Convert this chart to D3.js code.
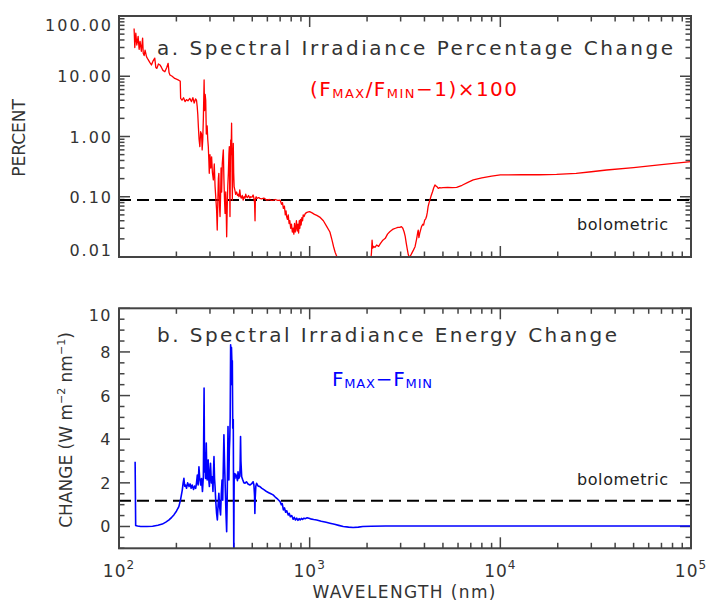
<!DOCTYPE html>
<html><head><meta charset="utf-8">
<script src="https://cdn.jsdelivr.net/npm/d3@7"></script>
<style>
html,body{margin:0;padding:0;background:#fff;}
text{font-family:"DejaVu Sans",sans-serif;fill:#333;}
</style></head>
<body><svg id="chart" width="708" height="606"></svg>
<script>
// ---------- DATA ----------
// Panel a: percentage change (F_MAX/F_MIN - 1) x 100, [wavelength nm, percent]; null = off-scale gap
const pctSpectrum = [
[120,62],[121,30],[122.5,52],[124,33],[126,46],[127.5,28],[129,38],[131,26],[133,43],[134,24],[135.5,22],[137,27],[139.5,21],[142,19],[145,17],[148,15.4],[151,18],[154,20],[156,14],[158,13.5],[161,16],[164,15.4],[167,14],[170,12.5],[174,11.9],[178,14],[181,16.4],[183,11.5],[185,10.5],[190,10],[196,9.2],[203,8.8],[208,8.4],[209.5,8.3],[210.5,4.3],[214,4.0],[218,4.4],[222,3.8],[226,4.1],[230,3.9],[235,4.3],[240,3.8],[244,4.4],[248,3.6],[252,4.2],[255,4.0],[257,3.2],[259,2.3],[261,1.4],[263,0.9],[265.5,0.68],[268,1.2],[271,1.1],[273,0.6],[275,0.9],[277,2.0],[279.5,8.7],[281,2.7],[283,5.0],[285,4.0],[287,1.1],[290,1.5],[292,0.9],[294,0.68],[296,0.4],[297.5,0.245],[300,0.5],[303,0.3],[306,0.46],[309,0.25],[312.5,0.19],[316,0.35],[319,0.15],[322.5,0.088],[325,0.06],[327.5,0.028],[330,0.09],[332,0.2],[334,0.245],[336.5,0.07],[338.8,0.047],[341,0.1],[343,0.3],[345.5,0.12],[348,0.35],[350,0.45],[352.5,0.6],[355,0.2],[357.5,0.09],[360,0.053],[363,0.12],[365,0.06],[367,0.0217],[370,0.08],[372,0.15],[374.6,0.245],[377,0.5],[379,0.68],[380.5,0.15],[382,0.047],[384,0.4],[385.5,0.875],[387,0.5],[389.5,1.66],[391,0.5],[393,0.088],[395,0.3],[397.5,0.77],[399.5,0.25],[401.7,0.147],[405,0.13],[409,0.11],[414,0.12],[418,0.105],[422,0.11],[426,0.1],[430,0.13],[434,0.1],[438,0.095],[443,0.105],[448,0.088],[453,0.1],[458,0.095],[462,0.11],[466,0.1],[472,0.097],[478,0.105],[485,0.095],[491,0.1],[498,0.098],[505,0.107],[510,0.095],[514,0.08],[517,0.04],[519,0.09],[524,0.1],[530,0.094],[540,0.097],[548,0.094],[560,0.092],[575,0.095],[595,0.088],[615,0.09],[630,0.087],[643,0.088],[660,0.09],[680,0.087],[700,0.088],[712,0.075],[720,0.08],[728,0.064],[737,0.07],[745,0.05],[752,0.058],[757,0.047],[765,0.042],[772,0.05],[780,0.036],[787,0.04],[795,0.03],[803,0.035],[811,0.026],[819,0.03],[826,0.024],[833,0.036],[840,0.026],[846,0.03],[852,0.04],[860,0.027],[868,0.035],[875,0.025],[882,0.04],[888,0.03],[895,0.042],[902,0.034],[910,0.045],[918,0.04],[925,0.05],[935,0.047],[950,0.053],[968,0.055],[985,0.056],[1000,0.0565],[1030,0.054],[1060,0.051],[1090,0.049],[1129,0.046],[1180,0.04],[1230,0.032],[1277,0.026],[1310,0.019],[1335,0.0148],[1360,0.012],[1400,0.0095],[1430,0.007],
[1700,null],
[2080,0.007],[2110,0.012],[2125,0.019],[2140,0.014],[2160,0.015],[2200,0.0145],[2245,0.0158],[2300,0.015],[2343,0.0165],[2420,0.019],[2492,0.0204],[2560,0.024],[2630,0.0263],[2700,0.028],[2740,0.029],[2820,0.03],[2900,0.031],[2970,0.031],[3028,0.032],[3080,0.03],[3130,0.026],[3170,0.022],[3210,0.017],[3250,0.0135],[3290,0.011],[3330,0.0098],[3380,0.0105],[3430,0.0115],[3500,0.013],[3570,0.0148],[3640,0.02],[3690,0.026],[3710,0.028],[3740,0.021],[3780,0.025],[3860,0.032],[3920,0.035],[3960,0.034],[4010,0.041],[4060,0.043],[4100,0.047],[4140,0.055],[4180,0.0685],[4230,0.08],[4270,0.088],[4340,0.105],[4410,0.121],[4470,0.14],[4540,0.157],[4600,0.15],[4650,0.147],[4725,0.138],[4800,0.142],[4900,0.14],[5000,0.142],[5300,0.143],[5600,0.142],[5900,0.143],[6300,0.155],[6800,0.175],[7210,0.19],[8000,0.205],[9000,0.22],[10000,0.23],[13000,0.232],[16000,0.232],[19730,0.235],[25000,0.245],[30000,0.26],[36100,0.278],[50000,0.305],[70000,0.34],[100000,0.382]
];
// Panel b: energy change F_MAX - F_MIN, [wavelength nm, W m-2 nm-1]
const energySpectrum = [
[121.5,2.97],[122.3,0.05],[125,0.02],[130,0.0],[140,0.0],[150,0.01],[160,0.06],[168.7,0.11],[176,0.2],[183,0.3],[189,0.42],[194,0.53],[200,0.7],[206,0.91],[210,1.2],[214.7,1.67],[217,2.0],[219,2.21],[221,1.85],[223.5,1.9],[226,1.75],[229,2.0],[233,1.83],[236,1.95],[239,1.75],[242,1.9],[246,1.7],[249,1.85],[252.5,1.75],[255,2.0],[257.5,2.36],[260,1.9],[262.6,2.74],[265,2.2],[268.3,1.9],[271,2.2],[274,1.6],[277,2.3],[279.4,6.34],[281,2.5],[282.5,3.36],[284.5,2.2],[286.9,3.82],[288.5,2.6],[290,2.13],[292,3.0],[293.6,3.05],[296,2.1],[298,1.83],[300,2.5],[302,2.9],[305,2.0],[308.5,2.28],[311,1.6],[313,2.5],[314.9,3.2],[317,2.2],[319,1.83],[322,1.1],[325,0.6],[328,0.3],[331,1.0],[334,1.52],[337,0.9],[341,0.53],[344,1.5],[347,2.13],[350,1.2],[352,2.5],[355,4.2],[358,2.8],[361.5,1.52],[364,0.6],[367,-0.24],[369,1.0],[371,2.8],[373,4.58],[375,3.0],[377,2.13],[379,3.5],[381,4.0],[383,5.0],[385,8.33],[387,6.5],[389,8.2],[391,7.5],[393,7.6],[395,4.5],[397.5,4.9],[399,1.0],[400,-1.5],[401,1.0],[402,2.44],[405,2.2],[409,2.4],[414,2.28],[418,2.1],[421,2.51],[425,2.2],[430,2.3],[432,2.8],[434,4.12],[436,3.0],[440,2.28],[445,2.15],[452,2.0],[458,1.98],[466,2.05],[475,1.95],[486,1.9],[495,1.95],[505,2.05],[510,1.9],[514,1.4],[516,0.6],[518,1.3],[522,1.85],[527,1.98],[537,1.85],[548,1.83],[562,1.75],[578,1.68],[594,1.6],[610,1.55],[626,1.5],[643,1.45],[660,1.35],[680,1.25],[700,1.14],[710,1.0],[718,1.05],[728,0.76],[738,0.85],[748,0.65],[758,0.72],[772,0.53],[782,0.6],[792,0.45],[805,0.5],[819,0.33],[830,0.42],[842,0.3],[855,0.38],[868,0.28],[880,0.36],[892,0.3],[905,0.37],[918,0.32],[930,0.38],[950,0.36],[970,0.4],[990,0.38],[1010,0.35],[1050,0.32],[1088,0.3],[1150,0.24],[1220,0.19],[1277,0.15],[1350,0.1],[1420,0.05],[1500,0.0],[1600,-0.03],[1690,-0.05],[1800,-0.03],[1900,0.0],[2100,0.01],[2500,0.02],[5000,0.02],[10000,0.02],[100000,0.02]
];
const bolometricPct = 0.088;
const bolometricEnergy = 1.18;
const xMajorTicks = [100, 1000, 10000, 100000];
const xTickExponents = ["2", "3", "4", "5"];
const pctTicks = [0.01, 0.1, 1, 10, 100];
const pctTickLabels = ["0.01", "0.10", "1.00", "10.00", "100.00"];
const energyTicks = [0, 2, 4, 6, 8, 10];
const energyTickLabels = ["0", "2", "4", "6", "8", "10"];

// ---------- LAYOUT ----------
const svg = d3.select("#chart");
const L = 119, R = 691;
const A = {top: 16, bottom: 257};
const B = {top: 308.3, bottom: 548.3};
const x = d3.scaleLog().domain([100, 1e5]).range([L, R]);
const yA = d3.scaleLog().domain([0.01, 100]).range([A.bottom, A.top]);
const yB = d3.scaleLinear().domain([-1, 10]).range([B.bottom, B.top]);
const frameColor = "#444";

const defs = svg.append("defs");
defs.append("clipPath").attr("id","clipA").append("rect").attr("x",L).attr("y",A.top).attr("width",R-L).attr("height",A.bottom-A.top);
defs.append("clipPath").attr("id","clipB").append("rect").attr("x",L).attr("y",B.top).attr("width",R-L).attr("height",B.bottom-B.top);

// minor x ticks
const xMinor = [];
for (let d = 100; d < 1e5; d *= 10) for (let k = 2; k <= 9; k++) xMinor.push(d*k);

function xTicks(P) {
  const g = svg.append("g").attr("stroke", frameColor).attr("stroke-width", 1.5);
  xMajorTicks.forEach(v => {
    g.append("line").attr("x1", x(v)).attr("x2", x(v)).attr("y1", P.bottom).attr("y2", P.bottom-11);
    g.append("line").attr("x1", x(v)).attr("x2", x(v)).attr("y1", P.top).attr("y2", P.top+11);
  });
  xMinor.forEach(v => {
    g.append("line").attr("x1", x(v)).attr("x2", x(v)).attr("y1", P.bottom).attr("y2", P.bottom-5.5);
    g.append("line").attr("x1", x(v)).attr("x2", x(v)).attr("y1", P.top).attr("y2", P.top+5.5);
  });
}
function yTick(g, yy, len) {
  g.append("line").attr("x1", L).attr("x2", L+len).attr("y1", yy).attr("y2", yy);
  g.append("line").attr("x1", R).attr("x2", R-len).attr("y1", yy).attr("y2", yy);
}

// ---------- PANEL A ----------
xTicks(A);
{
  const g = svg.append("g").attr("stroke", frameColor).attr("stroke-width", 1.5);
  pctTicks.forEach(v => yTick(g, yA(v), 11));
  for (let d = 0.01; d < 100; d *= 10) for (let k = 2; k <= 9; k++) yTick(g, yA(d*k), 5.5);
}
pctTicks.forEach((v, i) => {
  let yy = yA(v) + 6;
  if (i === pctTicks.length-1) yy += 9;
  if (i === 0) yy -= 7;
  svg.append("text").attr("x", 113).attr("y", yy).attr("text-anchor","end")
    .attr("font-size", 16).attr("letter-spacing", 2).text(pctTickLabels[i]);
});
svg.append("line").attr("x1", L).attr("x2", R).attr("y1", yA(bolometricPct)).attr("y2", yA(bolometricPct))
  .attr("stroke","#000").attr("stroke-width",2).attr("stroke-dasharray","12,6");
svg.append("path").datum(pctSpectrum).attr("clip-path","url(#clipA)")
  .attr("fill","none").attr("stroke","#ff0000").attr("stroke-width",1.3).attr("stroke-linejoin","round")
  .attr("d", d3.line().defined(d => d[1] !== null).x(d => x(d[0])).y(d => yA(d[1])));
svg.append("rect").attr("x",L).attr("y",A.top).attr("width",R-L).attr("height",A.bottom-A.top)
  .attr("fill","none").attr("stroke",frameColor).attr("stroke-width",2);
svg.append("text").attr("x",157).attr("y",55).attr("font-size",20).attr("textLength",516).attr("lengthAdjust","spacing")
  .text("a. Spectral Irradiance Percentage Change");
{
  const t = svg.append("text").attr("x",310).attr("y",96).attr("font-size",20).attr("textLength",207).attr("lengthAdjust","spacing").style("fill","#ff0000");
  t.append("tspan").text("(F");
  t.append("tspan").attr("font-size",13).attr("dy",2).text("MAX");
  t.append("tspan").attr("dy",-2).text("/F");
  t.append("tspan").attr("font-size",13).attr("dy",2).text("MIN");
  t.append("tspan").attr("dy",-2).text("\u22121)\u00d7100");
}
svg.append("text").attr("x",577).attr("y",230).attr("font-size",16).attr("textLength",91).attr("lengthAdjust","spacing").style("fill","#222").text("bolometric");
svg.append("text").attr("transform","translate(25,138) rotate(-90)").attr("text-anchor","middle").attr("font-size",17).text("PERCENT");

// ---------- PANEL B ----------
xTicks(B);
{
  const g = svg.append("g").attr("stroke", frameColor).attr("stroke-width", 1.5);
  energyTicks.forEach(v => yTick(g, yB(v), 11));
  for (let v = -1; v <= 10; v += 0.5) if (!energyTicks.includes(v)) yTick(g, yB(v), 5.5);
}
energyTicks.forEach((v, i) => {
  let yy = yB(v) + 6;
  if (v === 10) yy += 7;
  svg.append("text").attr("x", 112).attr("y", yy).attr("text-anchor","end")
    .attr("font-size", 16).attr("letter-spacing", 1.5).text(energyTickLabels[i]);
});
svg.append("line").attr("x1", L).attr("x2", R).attr("y1", yB(bolometricEnergy)).attr("y2", yB(bolometricEnergy))
  .attr("stroke","#000").attr("stroke-width",2).attr("stroke-dasharray","12,6");
svg.append("path").datum(energySpectrum).attr("clip-path","url(#clipB)")
  .attr("fill","none").attr("stroke","#0000ff").attr("stroke-width",1.6).attr("stroke-linejoin","round")
  .attr("d", d3.line().x(d => x(d[0])).y(d => yB(d[1])));
svg.append("rect").attr("x",L).attr("y",B.top).attr("width",R-L).attr("height",B.bottom-B.top)
  .attr("fill","none").attr("stroke",frameColor).attr("stroke-width",2);
svg.append("text").attr("x",157).attr("y",342).attr("font-size",20).attr("textLength",460).attr("lengthAdjust","spacing")
  .text("b. Spectral Irradiance Energy Change");
{
  const t = svg.append("text").attr("x",332).attr("y",386).attr("font-size",20).attr("textLength",100).attr("lengthAdjust","spacing").style("fill","#0000ff");
  t.append("tspan").text("F");
  t.append("tspan").attr("font-size",13).attr("dy",2).text("MAX");
  t.append("tspan").attr("dy",-2).text("\u2212F");
  t.append("tspan").attr("font-size",13).attr("dy",2).text("MIN");
}
svg.append("text").attr("x",577).attr("y",485).attr("font-size",16).attr("textLength",91).attr("lengthAdjust","spacing").style("fill","#222").text("bolometric");
{
  const t = svg.append("text").attr("transform","translate(72,430) rotate(-90)").attr("text-anchor","middle").attr("font-size",17);
  t.append("tspan").text("CHANGE (W m");
  t.append("tspan").attr("font-size",11).attr("dy",-7).text("\u22122");
  t.append("tspan").attr("dy",7).text(" nm");
  t.append("tspan").attr("font-size",11).attr("dy",-7).text("\u22121");
  t.append("tspan").attr("dy",7).text(")");
}
// x tick labels
xMajorTicks.forEach((v, i) => {
  const t = svg.append("text").attr("x", x(v)).attr("y", 577).attr("text-anchor","middle").attr("font-size",17).attr("letter-spacing",1);
  t.append("tspan").text("10");
  t.append("tspan").attr("font-size",12).attr("dy",-8).text(xTickExponents[i]);
});
svg.append("text").attr("x",404).attr("y",598).attr("text-anchor","middle").attr("font-size",17).attr("textLength",183).attr("lengthAdjust","spacing").text("WAVELENGTH (nm)");
</script>
</body></html>
